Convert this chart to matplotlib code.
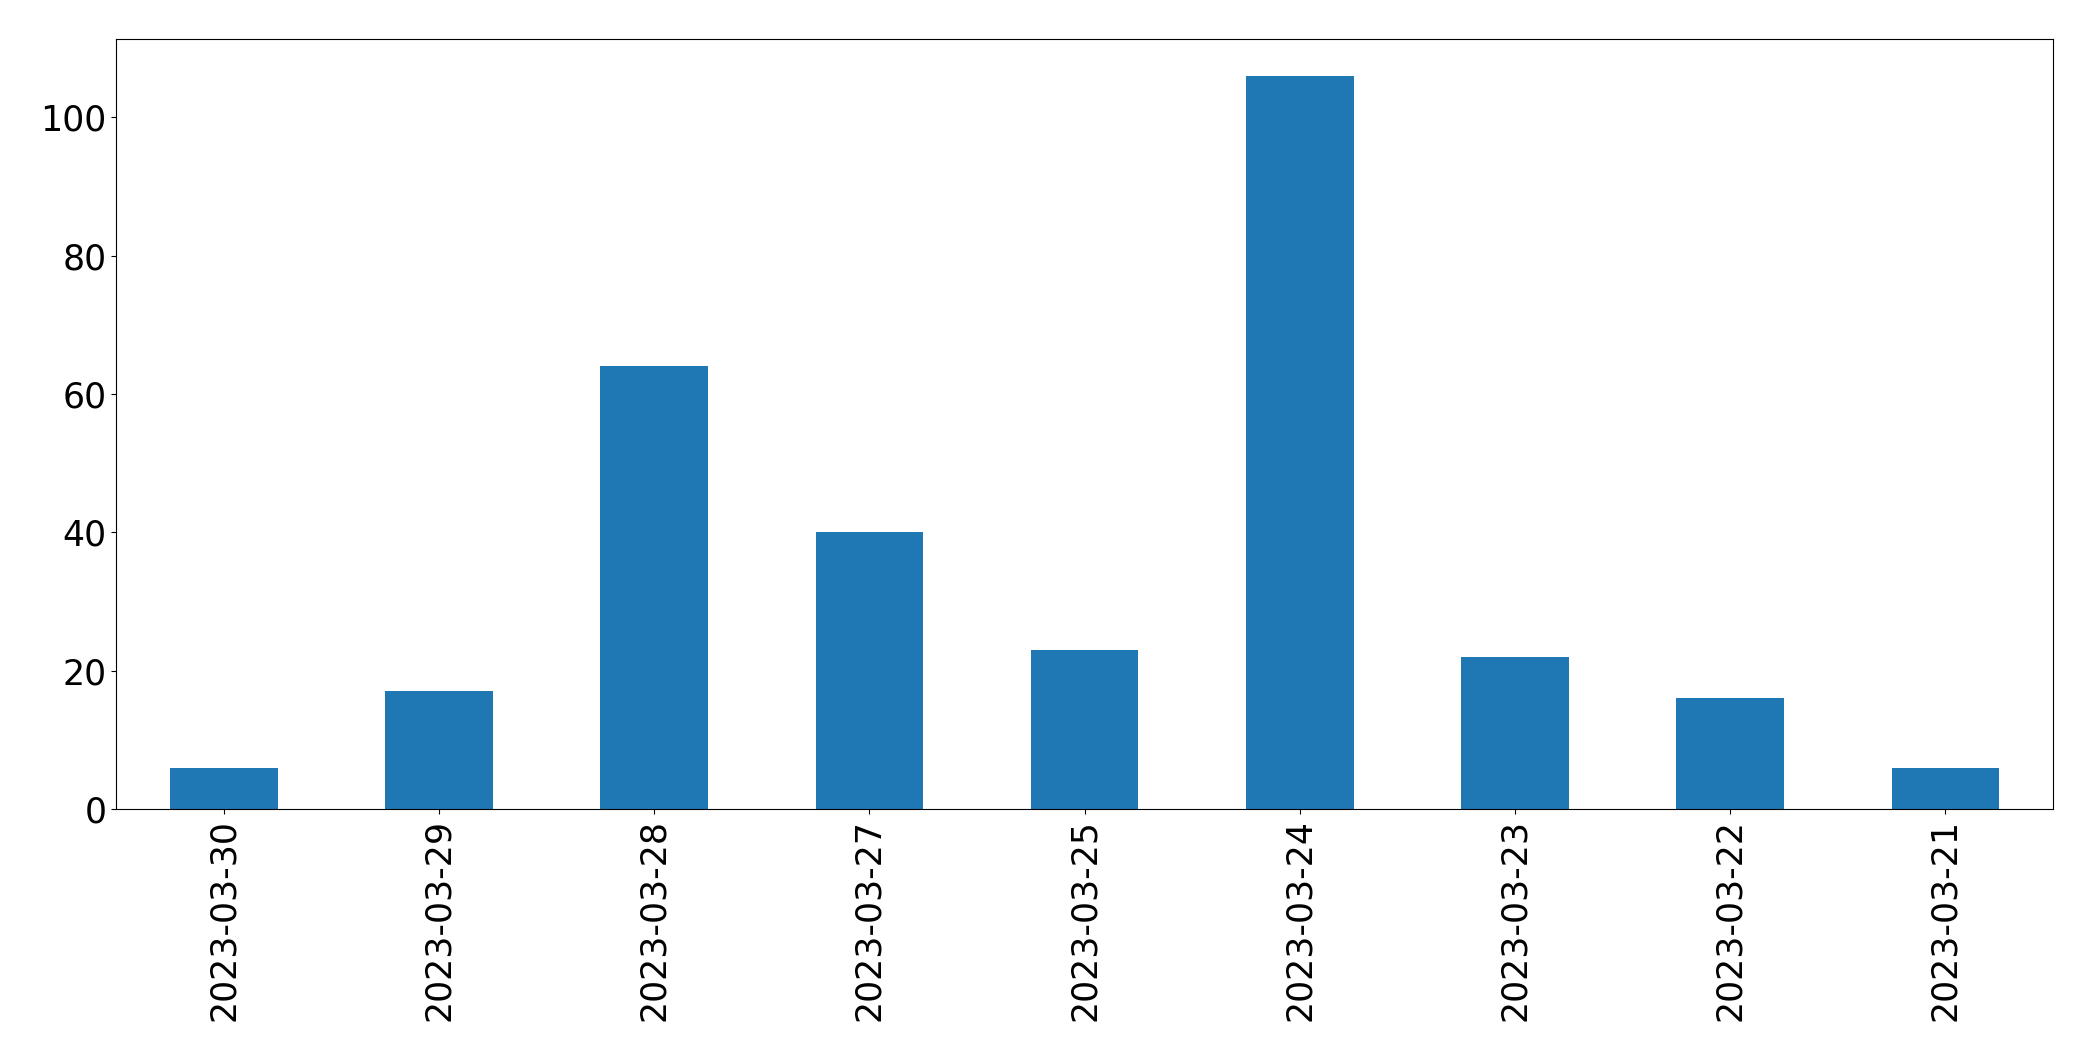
import matplotlib
matplotlib.use("Agg")
import matplotlib.pyplot as plt

# daily counts, in the order shown
dates = ["2023-03-30", "2023-03-29", "2023-03-28", "2023-03-27", "2023-03-25",
         "2023-03-24", "2023-03-23", "2023-03-22", "2023-03-21"]
counts = [6, 17, 64, 40, 23, 106, 22, 16, 6]

fig = plt.figure(figsize=(20.93, 10.61), dpi=100)
ax = fig.add_axes([0.0555, 0.2375, 0.9254, 0.7257])

x = list(range(len(dates)))
ax.bar(x, counts, width=0.5, color="#1f77b4")
ax.set_xticks(x)
ax.set_xticklabels(dates, rotation=90, fontsize=25)
ax.tick_params(axis="y", labelsize=25)
ax.set_xlim(-0.5, len(dates) - 0.5)
ax.set_ylim(0, max(counts) * 1.05)

fig.savefig("out.png", dpi=100)
